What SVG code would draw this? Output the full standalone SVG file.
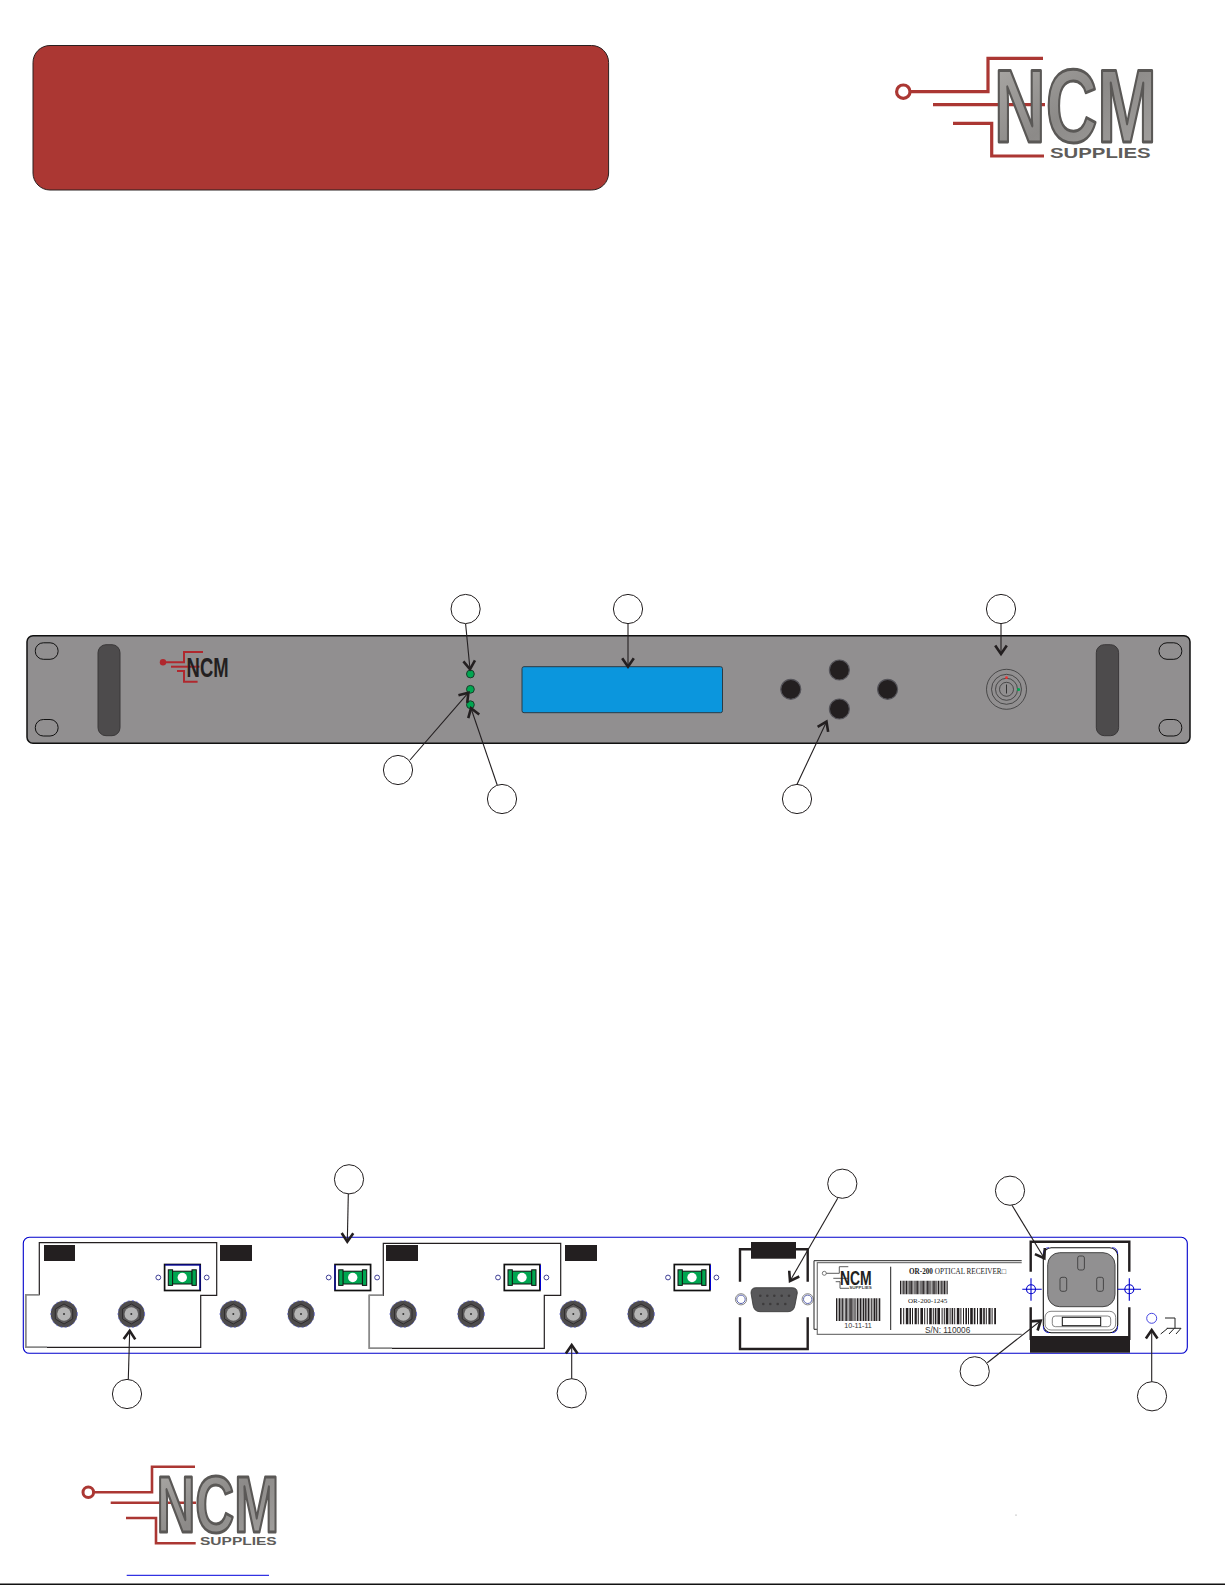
<svg xmlns="http://www.w3.org/2000/svg" xmlns:xlink="http://www.w3.org/1999/xlink" width="1225" height="1585" viewBox="0 0 1225 1585">
<style>
.red{fill:none;stroke:#ab3733;stroke-width:3.2}
.red2{fill:none;stroke:#b0282e;stroke-width:2}
.ncm{font-family:"Liberation Sans",Arial,sans-serif;font-weight:700;fill:url(#metal);stroke:#5a5856;stroke-width:3;stroke-linejoin:round}
.sup{font-family:"Liberation Sans",Arial,sans-serif;font-weight:700;fill:#5e5c5a}
.hole{fill:none;stroke:#111;stroke-width:1}
.handle{fill:#4d4b4c;stroke:#3a3839;stroke-width:1}
.led{fill:#00a651;stroke:#1c3a2a;stroke-width:1}
.btn{fill:#231f20;stroke:#55545a;stroke-width:1.2}
.ring{fill:none;stroke:#2a2a2a;stroke-width:.7}
.callout{fill:#fff;stroke:#231f20;stroke-width:1}
.arrow{fill:none;stroke:#231f20;stroke-width:1.1;marker-end:url(#vhead)}
.blue{fill:none;stroke:#0000cc;stroke-width:1.1}
.mod{fill:#fff;stroke:#231f20;stroke-width:1.2}
.gry{fill:none;stroke:#8a8a8a;stroke-width:1.5}
.blk{fill:#231f20}
.frame{fill:none;stroke:#231f20;stroke-width:2.4}
.pin{fill:#3d3b3c}
.small{fill:#fff;stroke:#2a2a8a;stroke-width:.9}
.bar{fill:none;stroke:#231f20}
.ser{font-family:"Liberation Serif","Times New Roman",serif;fill:#222}
.san{font-family:"Liberation Sans",Arial,sans-serif;fill:#333}
.slot{fill:#919091;stroke:#333;stroke-width:.8}
</style>
<defs>
<linearGradient id="metal" x1="0" y1="0" x2="1" y2="1">
<stop offset="0" stop-color="#aeaca9"/><stop offset=".5" stop-color="#8c8a88"/><stop offset="1" stop-color="#a5a3a1"/>
</linearGradient>
<marker id="vhead" markerUnits="userSpaceOnUse" markerWidth="16" markerHeight="16" refX="12" refY="8" orient="auto">
<path d="M3.5,2.2 L12,8 L3.5,13.8" fill="none" stroke="#231f20" stroke-width="2.6"/>
</marker>
<g id="bnc">
<circle r="13.3" fill="#4d4b4c" stroke="#5a64d6" stroke-width=".8" stroke-dasharray="2 2.5"/>
<polygon points="0,-10 8.7,-5 8.7,5 0,10 -8.7,5 -8.7,-5" fill="#5a5859" stroke="#2e2c2d" stroke-width="1"/>
<circle r="6.8" fill="#b5b5b5"/>
<circle r="1" fill="#333"/>
</g>
<g id="fiber">
<rect x="-17.7" y="-13" width="35.6" height="26" fill="#fff" stroke="#111" stroke-width="1.7"/>
<rect x="-10" y="-6.3" width="20" height="12.8" fill="#00a651" stroke="#111" stroke-width="1"/>
<rect x="-14" y="-7.7" width="4.3" height="15.6" fill="#00a651" stroke="#111" stroke-width="1"/>
<rect x="9.7" y="-7.7" width="4.3" height="15.6" fill="#00a651" stroke="#111" stroke-width="1"/>
<circle r="4.7" fill="#fff"/>
<circle cx="-24" r="2.4" class="small"/>
<circle cx="24.4" r="2.4" class="small"/>
</g>
</defs>

<rect width="1225" height="1585" fill="#fff"/>

<g id="title-box">
<rect x="33" y="45.5" width="575.6" height="144.5" rx="17" fill="#ab3733" stroke="#2a2020" stroke-width="1"/>
</g>

<g id="logo-top">
<circle cx="903.3" cy="91.7" r="6.7" fill="#fff" stroke="#ab3733" stroke-width="3.2"/>
<path class="red" d="M910,91.7H988V58.3H1043"/>
<path class="red" d="M933,104.7H1045"/>
<path class="red" d="M953,123.3H991.7V156H1044"/>
<text class="ncm" transform="translate(994,141.5) scale(.688,1)" font-size="104">NCM</text>
<text class="sup" x="1050" y="158" font-size="14" textLength="100.7" lengthAdjust="spacingAndGlyphs">SUPPLIES</text>
</g>

<g id="front-panel">
<rect x="27" y="635.7" width="1163" height="107.6" rx="6" fill="#918f90" stroke="#111" stroke-width="1.5"/>
<rect class="hole" x="35.3" y="642.8" width="22.8" height="16.5" rx="8"/>
<rect class="hole" x="35.3" y="719.5" width="22.8" height="16.5" rx="8"/>
<rect class="hole" x="1159" y="642.8" width="22.8" height="16.5" rx="8"/>
<rect class="hole" x="1159" y="719.5" width="22.8" height="16.5" rx="8"/>
<rect class="handle" x="98" y="644.7" width="22" height="91" rx="8"/>
<rect class="handle" x="1096.3" y="644.7" width="22.3" height="91" rx="8"/>
<g id="front-logo">
<circle cx="163" cy="662.3" r="3.2" fill="#b0282e"/>
<path class="red2" d="M163,662.3H184V652H203"/>
<path class="red2" d="M171,666.7H199.6"/>
<path class="red2" d="M177,671H184V681.7H197.6"/>
<text x="186.6" y="676.7" font-family="Liberation Sans, Arial, sans-serif" font-weight="700" font-size="27" fill="#231f20" textLength="42" lengthAdjust="spacingAndGlyphs">NCM</text>
</g>
<circle class="led" cx="470.4" cy="674" r="3.9"/>
<circle class="led" cx="470.4" cy="689.3" r="3.9"/>
<circle class="led" cx="470.4" cy="704.7" r="3.9"/>
<rect x="522" y="666.7" width="200.5" height="46" rx="2" fill="#0b96dd" stroke="#2a3a44" stroke-width="1"/>
<circle class="btn" cx="839.4" cy="670" r="10"/>
<circle class="btn" cx="839.4" cy="709" r="10"/>
<circle class="btn" cx="790.8" cy="689.3" r="10"/>
<circle class="btn" cx="887.6" cy="689.3" r="10"/>
<g id="power-switch">
<circle class="ring" cx="1006.5" cy="689.3" r="20"/>
<circle class="ring" cx="1006.5" cy="689.3" r="15"/>
<circle class="ring" cx="1006.5" cy="689.3" r="11"/>
<circle class="ring" cx="1006.5" cy="689.3" r="7"/>
<path d="M1006.5,684.5V693.5" stroke="#333" stroke-width="1"/>
<circle cx="1006.5" cy="677.7" r="1.4" fill="#e33"/>
<circle cx="1018.6" cy="689.5" r="1.6" fill="#00a651"/>
</g>
</g>

<g id="rear-panel">
<rect class="blue" x="23.3" y="1237.3" width="1164" height="116" rx="6"/>
<g id="module-1">
<path class="mod" d="M39.3,1242.7H216.7V1295.3H200.7V1347.3H25.7V1294.7H39.3Z"/>
<path class="gry" d="M39.3,1294.7H25.7V1347.3H47"/>
<rect class="blk" x="44" y="1245" width="31" height="16"/>
<use xlink:href="#fiber" href="#fiber" x="182.3" y="1277.5"/>
<use xlink:href="#bnc" href="#bnc" x="64" y="1314"/>
<use xlink:href="#bnc" href="#bnc" x="131.3" y="1314"/>
</g>
<g id="module-2">
<rect class="blk" x="220" y="1245" width="32" height="16"/>
<use xlink:href="#fiber" href="#fiber" x="352.7" y="1277.5"/>
<use xlink:href="#bnc" href="#bnc" x="233.3" y="1314"/>
<use xlink:href="#bnc" href="#bnc" x="301" y="1314"/>
</g>
<g id="module-3">
<path class="mod" d="M383.3,1243.3H560.7V1295.3H544.3V1348.3H369.3V1295.3H383.3Z"/>
<path class="gry" d="M383.3,1295.3H369.3V1348.3H392"/>
<rect class="blk" x="386" y="1245" width="32" height="16"/>
<use xlink:href="#fiber" href="#fiber" x="522" y="1277.5"/>
<use xlink:href="#bnc" href="#bnc" x="403.3" y="1314"/>
<use xlink:href="#bnc" href="#bnc" x="471" y="1314"/>
</g>
<g id="module-4">
<rect class="blk" x="565" y="1245" width="32" height="16"/>
<use xlink:href="#fiber" href="#fiber" x="692" y="1277.5"/>
<use xlink:href="#bnc" href="#bnc" x="573.3" y="1314"/>
<use xlink:href="#bnc" href="#bnc" x="641" y="1314"/>
</g>
<path d="M165,1265H200V1290M335,1265V1290M540.5,1265V1290M710.5,1265V1290" fill="none" stroke="#0000cc" stroke-width="1"/>

<g id="serial-port">
<path class="frame" d="M740,1281.7V1249.3H807.7V1281.7M740,1317.3V1349H807.7V1317.3"/>
<rect class="blk" x="751" y="1242" width="45" height="16.7"/>
<path d="M756,1287.7H792Q797.3,1287.7 797.3,1293L795,1305Q794,1311.7 788,1311.7H760Q754,1311.7 753,1305L751,1293Q751,1287.7 756,1287.7Z" fill="#58585a" stroke="#333" stroke-width=".8"/>
<circle class="pin" cx="760.3" cy="1295.7" r="1.3"/><circle class="pin" cx="767.3" cy="1295.7" r="1.3"/><circle class="pin" cx="774.3" cy="1295.7" r="1.3"/><circle class="pin" cx="781.7" cy="1295.7" r="1.3"/><circle class="pin" cx="789" cy="1295.7" r="1.3"/>
<circle class="pin" cx="763.3" cy="1304" r="1.3"/><circle class="pin" cx="770.3" cy="1304" r="1.3"/><circle class="pin" cx="777.7" cy="1304" r="1.3"/><circle class="pin" cx="785.3" cy="1304" r="1.3"/>
<circle cx="741" cy="1299.3" r="4.2" fill="#fff" stroke="#5a64b0" stroke-width="1"/>
<circle cx="741" cy="1299.3" r="5.6" fill="none" stroke="#555" stroke-width=".7"/>
<circle cx="807.7" cy="1299.3" r="4.2" fill="#fff" stroke="#5a64b0" stroke-width="1"/>
<circle cx="807.7" cy="1299.3" r="5.6" fill="none" stroke="#555" stroke-width=".7"/>
</g>

<g id="product-label">
<path d="M1021.7,1260.7H814V1329.3H818" fill="none" stroke="#222" stroke-width="1"/>
<path d="M1021.7,1262.7H817.3V1334.3H1021.7" fill="#fff" stroke="#777" stroke-width="1.2"/>
<path d="M890.7,1266.7V1330" stroke="#222" stroke-width="1"/>
<circle cx="824.3" cy="1273.3" r="2" fill="#fff" stroke="#444" stroke-width=".7"/>
<path d="M826.3,1273.3H839.3V1266.7H848.3M833.3,1278.3H848M835.7,1281.7H840V1288.3H849" fill="none" stroke="#333" stroke-width=".8"/>
<text x="840" y="1285" font-family="Liberation Sans, Arial, sans-serif" font-weight="700" font-size="21" fill="#231f20" textLength="31.7" lengthAdjust="spacingAndGlyphs">NCM</text>
<text x="849.3" y="1289.3" font-family="Liberation Sans, Arial, sans-serif" font-weight="700" font-size="4.2" fill="#444" textLength="22.4" lengthAdjust="spacingAndGlyphs">SUPPLIES</text>
<line class="bar" x1="836" y1="1309.6" x2="880.3" y2="1309.6" stroke-width="22.7" stroke-dasharray="1 .6 .6 .6 1.6 .5 .6 .6 1.1 .5 .6 1 1.6 .6 .6 .6 1 .5 1.6 .6 .6 .5 1.1 .6 .6 .9 1.6 .5 .6 .6 1 .5 .6 .6 1.6 .6 1 .5 .6 .6 1.6 .5 .6 .9 1 .6 .6 .5 1.6 .6"/>
<text class="san" x="858" y="1328.3" font-size="7" text-anchor="middle" textLength="27.7" lengthAdjust="spacingAndGlyphs">10-11-11</text>
<text class="ser" x="909" y="1274" font-size="7.5" textLength="97" lengthAdjust="spacingAndGlyphs"><tspan font-weight="700">OR-200</tspan> OPTICAL RECEIVER□</text>
<line class="bar" x1="900" y1="1287.5" x2="948" y2="1287.5" stroke-width="13.6" stroke-dasharray="1 .6 .6 .5 1.1 .5 .6 .6 1.6 .5 .6 .5 1 .6 1.6 .5 .6 .6 1 .5 .6 .6 1.6 .5 1 .6 .6 .5 .6 .6 1.6 .5 1 .6 .6 .5 1.6 .6 .6 .5 1 .6 .6 .6 1.6 .5 .6 .5 1 .6"/>
<text class="ser" x="908" y="1303.3" font-size="7" textLength="39.3" lengthAdjust="spacingAndGlyphs">OR-200-1245</text>
<line class="bar" x1="900" y1="1316.2" x2="996" y2="1316.2" stroke-width="16.3" stroke-dasharray="1.6 1.6 1 1.6 2.6 1 1.6 1 1 1.6 2.2 1 1 1.6 2.6 1.2 1 1.6 1 1.4 2.6 1 1 1 1.6 1 2.6 1.6 1 1.2 1 1 2.6 1.2 1 1 1.6 1 1 1.6 2.6 1 1 1.6 1 1.4 1.6 1 1 1.2 2.6 1"/>
<text class="san" x="925" y="1332.7" font-size="8.5" textLength="45.3" lengthAdjust="spacingAndGlyphs">S/N: 110006</text>
</g>

<g id="power-inlet">
<path class="frame" d="M1030.7,1271.7V1241.7H1129.3V1271.7M1030.7,1307.3V1340M1129.3,1307.3V1340"/>
<rect class="blk" x="1030" y="1336" width="100" height="16.7"/>
<rect x="1043.3" y="1247.7" width="74.4" height="85" rx="8" fill="#fff" stroke="#111" stroke-width="1.1"/>
<path d="M1043.3,1254Q1043.3,1247.7 1049,1247.7M1112,1247.7Q1117.7,1247.7 1117.7,1254M1117.7,1326Q1117.7,1332.7 1112,1332.7M1049,1332.7Q1043.3,1332.7 1043.3,1326" fill="none" stroke="#2222cc" stroke-width=".9"/>
<rect x="1047.7" y="1252.7" width="67.3" height="54" rx="12" fill="#919091" stroke="#444" stroke-width="1"/>
<rect class="slot" x="1077.7" y="1256" width="6.7" height="14" rx="2"/>
<rect class="slot" x="1060" y="1277.3" width="6.7" height="14" rx="2"/>
<rect class="slot" x="1096.7" y="1277.3" width="6.7" height="14" rx="2"/>
<rect x="1045" y="1311.3" width="70.7" height="18.7" rx="6" fill="#fff" stroke="#777" stroke-width=".9"/>
<rect x="1052.3" y="1316" width="58.4" height="10.7" rx="3" fill="#fff" stroke="#777" stroke-width=".9"/>
<rect x="1062.3" y="1317.3" width="38.4" height="8.4" fill="#fff" stroke="#111" stroke-width="1"/>
<g class="blue">
<circle cx="1031" cy="1289.3" r="4.5"/>
<path d="M1022.3,1289.3H1041.7M1031,1278.3V1300.7"/>
<circle cx="1129.3" cy="1289.3" r="4.5"/>
<path d="M1117.7,1289.3H1141M1129.3,1278.3V1300.7"/>
</g>
</g>

<g id="ground">
<circle cx="1151.7" cy="1318.3" r="5" fill="none" stroke="#3333dd" stroke-width=".9"/>
<path d="M1165,1318H1175V1328.3M1166.7,1328.3H1181M1167.7,1328.3L1160.7,1334M1174.3,1328.3L1169,1334M1181,1328.3L1176,1334" fill="none" stroke="#222" stroke-width="1"/>
</g>
</g>

<g id="logo-bottom">
<circle cx="88.3" cy="1492.3" r="5.3" fill="#fff" stroke="#ab3733" stroke-width="3"/>
<path class="red" style="stroke-width:2.6" d="M94,1492.3H152V1466.7H195"/>
<path class="red" style="stroke-width:2.6" d="M110.7,1502.7H196"/>
<path class="red" style="stroke-width:2.6" d="M126,1518H156V1543.3H195.7"/>
<text class="ncm" transform="translate(156.4,1531.5) scale(.674,1)" font-size="80">NCM</text>
<text class="sup" x="200" y="1545.3" font-size="11" textLength="76.7" lengthAdjust="spacingAndGlyphs">SUPPLIES</text>
</g>

<g id="footer">
<line x1="126.7" y1="1575.3" x2="269" y2="1575.3" stroke="#0000dd" stroke-width="1"/>
<line x1="0" y1="1584.3" x2="1225" y2="1584.3" stroke="#111" stroke-width="1.5"/>
<circle cx="1016" cy="1515" r=".6" fill="#888"/>
</g>

<g id="connectors">
<path class="arrow" d="M465.6,623.7L470,669.3"/>
<path class="arrow" d="M628,623.7V666.7"/>
<path class="arrow" d="M1001,623.7V654"/>
<path class="arrow" d="M410,760L468.4,692.7"/>
<path class="arrow" d="M497.2,785L471,708.3"/>
<path class="arrow" d="M796.7,785L826.5,721.7"/>
<path class="arrow" d="M348.3,1194L347.3,1241.7"/>
<path class="arrow" d="M128.3,1379.3L129.7,1330.7"/>
<path class="arrow" d="M571.7,1379V1345"/>
<path class="arrow" d="M837.7,1198.3L790,1281"/>
<path class="arrow" d="M1012,1205.3L1044.3,1258.3"/>
<path class="arrow" d="M987.3,1362.7L1040.7,1320.7"/>
<path class="arrow" d="M1151.7,1381.7V1330"/>
</g>

<g id="callouts">
<circle id="c-front-1" class="callout" cx="465.6" cy="609" r="14.6"/>
<circle id="c-front-2" class="callout" cx="628" cy="609" r="14.6"/>
<circle id="c-front-3" class="callout" cx="1001" cy="609" r="14.6"/>
<circle id="c-front-4" class="callout" cx="398" cy="770" r="14.6"/>
<circle id="c-front-5" class="callout" cx="502" cy="799" r="14.6"/>
<circle id="c-front-6" class="callout" cx="797" cy="799" r="14.6"/>
<circle id="c-rear-1" class="callout" cx="349" cy="1179.3" r="14.6"/>
<circle id="c-rear-2" class="callout" cx="127" cy="1394" r="14.6"/>
<circle id="c-rear-3" class="callout" cx="571.7" cy="1393.3" r="14.6"/>
<circle id="c-rear-4" class="callout" cx="842.3" cy="1183.7" r="14.6"/>
<circle id="c-rear-5" class="callout" cx="1010" cy="1190.7" r="14.6"/>
<circle id="c-rear-6" class="callout" cx="974.7" cy="1371.3" r="14.6"/>
<circle id="c-rear-7" class="callout" cx="1152" cy="1396.3" r="14.6"/>
</g>
</svg>
